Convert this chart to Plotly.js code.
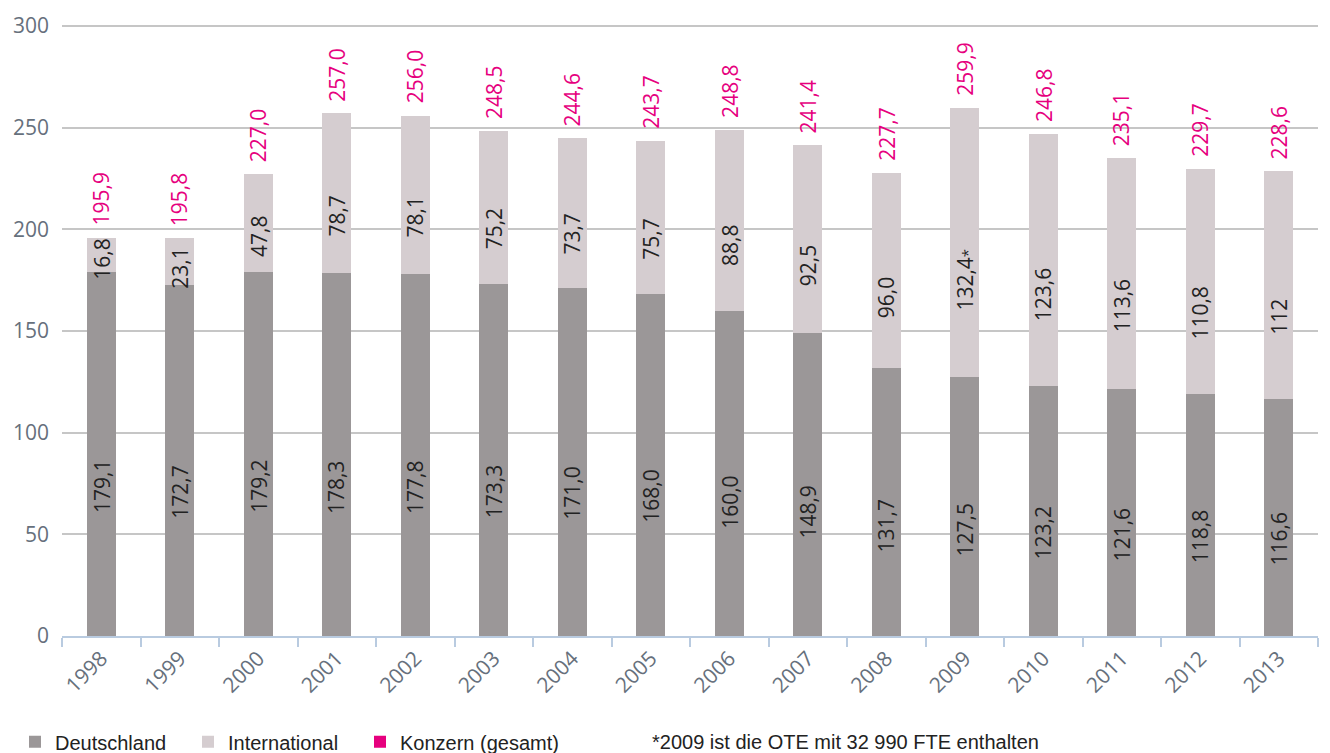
<!DOCTYPE html>
<html>
<head>
<meta charset="utf-8">
<script src="https://cdn.plot.ly/plotly-3.0.1.min.js"></script>
<style>
html,body{margin:0;padding:0;background:#fff;}
#chart{width:1330px;height:753px;}
</style>
</head>
<body>
<div id="chart"></div>
<script>
const years = ["1998","1999","2000","2001","2002","2003","2004","2005","2006","2007","2008","2009","2010","2011","2012","2013"];
const deutschland = [179.1,172.7,179.2,178.3,177.8,173.3,171.0,168.0,160.0,148.9,131.7,127.5,123.2,121.6,118.8,116.6];
const international = [16.8,23.1,47.8,78.7,78.1,75.2,73.7,75.7,88.8,92.5,96.0,132.4,123.6,113.6,110.8,112];
const konzern = [195.9,195.8,227.0,257.0,256.0,248.5,244.6,243.7,248.8,241.4,227.7,259.9,246.8,235.1,229.7,228.6];
const deLabels = ["179,1","172,7","179,2","178,3","177,8","173,3","171,0","168,0","160,0","148,9","131,7","127,5","123,2","121,6","118,8","116,6"];
const intLabels = ["16,8","23,1","47,8","78,7","78,1","75,2","73,7","75,7","88,8","92,5","96,0","132,4<span style='font-size:15px'>*</span>","123,6","113,6","110,8","112"];
const konzernLabels = ["195,9","195,8","227,0","257,0","256,0","248,5","244,6","243,7","248,8","241,4","227,7","259,9","246,8","235,1","229,7","228,6"];
const yTicks = [0,50,100,150,200,250,300];
const footnote = "*2009 ist die OTE mit 32 990 FTE enthalten";

const cDE = "#9b9798", cINT = "#d5cdd0", cPINK = "#e6007e";
const labelFont = {family:"Open Sans, Noto Sans, sans-serif", size:21, color:"#222"};
const legendFont = {family:"Liberation Sans, Arial, sans-serif", size:20, color:"#222"};

const traces = [
  {type:"bar", name:"Deutschland", x:years, y:deutschland, marker:{color:cDE}, hoverinfo:"skip", legend:"legend"},
  {type:"bar", name:"International", x:years, y:international, marker:{color:cINT}, hoverinfo:"skip", legend:"legend2"},
  {type:"bar", name:"Konzern (gesamt)", x:years, y:years.map(()=>0), marker:{color:cPINK, line:{width:0}}, hoverinfo:"skip", legend:"legend3"}
];

const annotations = [];
years.forEach((yr,i)=>{
  annotations.push({x:i, y:deutschland[i]*0.41, text:deLabels[i], textangle:-90, showarrow:false,
    xanchor:"center", yanchor:"middle", font:labelFont});
  annotations.push({x:i, y:deutschland[i]+international[i]*0.36, text:intLabels[i], textangle:-90, showarrow:false,
    xanchor:"center", yanchor:"middle", font:labelFont});
  annotations.push({x:i, y:konzern[i], text:konzernLabels[i], textangle:-90, showarrow:false,
    xanchor:"center", yanchor:"bottom", yshift:10, font:Object.assign({}, labelFont, {color:cPINK})});
});
annotations.push({xref:"paper", yref:"paper", x:(650-62)/1256, y:-(742-636)/612, xanchor:"left", yanchor:"middle",
  text:footnote, showarrow:false, font:legendFont});

function leg(px){
  return {orientation:"h", xref:"container", yref:"container", x:px/1330, y:0.015, xanchor:"left", yanchor:"middle", font:legendFont};
}

const layout = {
  width:1330, height:753,
  margin:{l:62, r:12, t:24, b:117},
  paper_bgcolor:"#fff", plot_bgcolor:"#fff",
  barmode:"stack", bargap:0.63,
  showlegend:true,
  legend:leg(15), legend2:leg(188), legend3:leg(360),
  xaxis:{type:"category", categoryorder:"array", categoryarray:years, range:[-0.5, years.length-0.5],
    showgrid:false, showline:true, linecolor:"#b9cbe0", linewidth:2,
    ticks:"outside", tickson:"boundaries", ticklen:9, tickwidth:2, tickcolor:"#b9cbe0",
    tickangle:-45, tickfont:{family:"Open Sans, Noto Sans, sans-serif", size:21, color:"#66707c"}, zeroline:false, fixedrange:true},
  yaxis:{range:[0,301], tickvals:yTicks, showgrid:true, gridcolor:"#c6c6c6", gridwidth:2, showline:false, zeroline:false,
    ticks:"", ticklabelstandoff:12, tickfont:{family:"Open Sans, Noto Sans, sans-serif", size:21, color:"#66707c"}, fixedrange:true},
  annotations:annotations
};

Plotly.newPlot("chart", traces, layout, {displayModeBar:false, staticPlot:true});
</script>
</body>
</html>
